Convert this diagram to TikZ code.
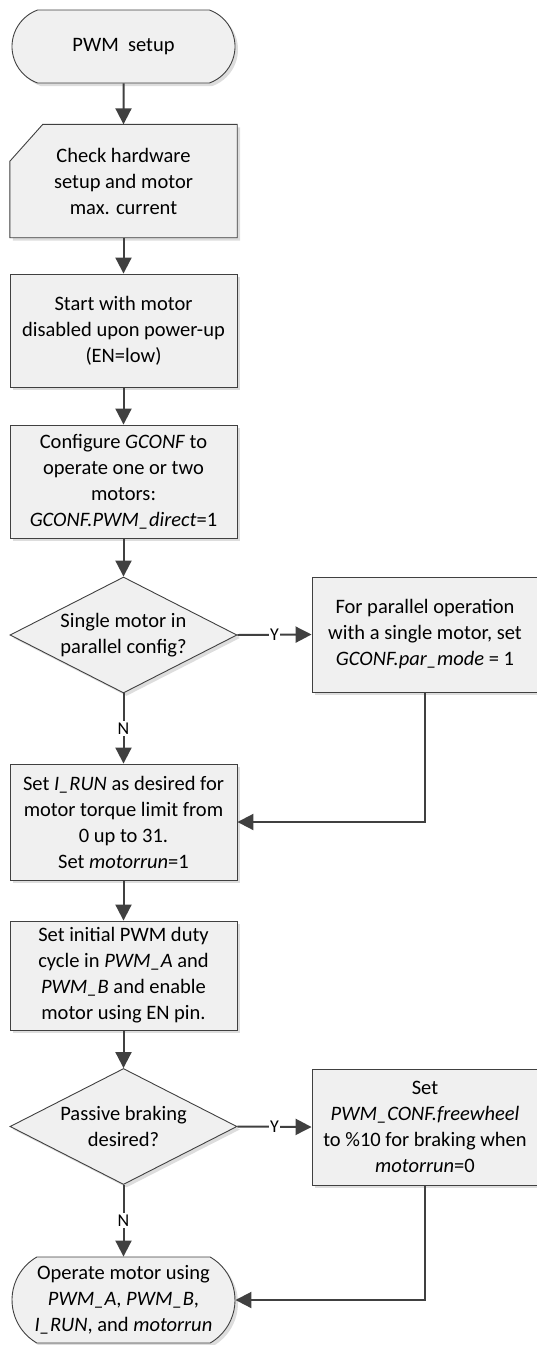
\documentclass[tikz,border=0pt]{standalone}
\usepackage{fontspec}
\setmainfont{Carlito}
\usetikzlibrary{arrows.meta,shapes.geometric,shapes.misc,shadows,calc}
\pgfdeclarelayer{bg}
\pgfsetlayers{bg,main}
\definecolor{linec}{HTML}{404040}
\definecolor{boxc}{HTML}{F0F0F0}
\definecolor{shc}{HTML}{DDDDDD}
\tikzset{
  txt/.style={font=\fontsize{20.5}{26}\selectfont, align=center, text=black},
  shad/.style={drop shadow={shadow xshift=3pt, shadow yshift=-3pt, fill=shc, opacity=1}},
  boxlook/.style={draw=linec, fill=boxc, line width=0.9pt, shad},
  proc/.style={txt, rectangle, boxlook, minimum width=227, minimum height=113, inner sep=2pt},
  sideproc/.style={proc, minimum width=226, minimum height=115},
  decis/.style={txt, diamond, boxlook, minimum width=227, minimum height=116, inner sep=0pt, aspect=1.95},
  term/.style={txt, rounded rectangle, rounded rectangle arc length=120, boxlook, minimum width=227, inner sep=2pt},
  arr/.style={-{Triangle[length=16pt,width=16pt]}, line width=2pt, draw=linec},
  lbl/.style={fill=white, inner sep=1.5pt, font=\fontsize{18}{22}\selectfont, text=black},
}
\begin{document}
\begin{tikzpicture}[x=1pt,y=-1pt]
\useasboundingbox (0,0) rectangle (536,1345);

\node[term, rounded rectangle arc length=140, minimum height=73] (t1) at (123.5,46.5) {PWM\ \ setup};
\node[txt, rectangle, minimum width=227, minimum height=113, inner sep=2pt] (chk) at (123.5,181) {Check hardware\\setup and motor\\max. current};
\begin{pgfonlayer}{bg}
\path[boxlook] ($(chk.north west)+(0,37)$) -- ($(chk.north west)+(33,0)$) -- (chk.north east) -- (chk.south east) -- (chk.south west) -- cycle;
\end{pgfonlayer}
\node[proc] (dis) at (123.5,330.5) {Start with motor\\disabled upon power-up\\(EN=low)};
\node[proc] (gconf) at (123.5,481.5) {Configure \textit{GCONF} to\\operate one or two\\motors:\\\textit{GCONF.PWM\_direct}=1};
\node[decis] (d1) at (123.5,635) {Single motor in\\parallel config?};
\node[sideproc] (par) at (425,634.5) {For parallel operation\\with a single motor, set\\\textit{GCONF.par\_mode} = 1};
\node[proc, minimum height=116] (irun) at (123.5,822) {Set \textit{I\_RUN} as desired for\\motor torque limit from\\0 up to 31.\\Set \textit{motorrun}=1};
\node[proc, minimum height=109] (pwm) at (123.5,975.5) {Set initial PWM duty\\cycle in \textit{PWM\_A} and\\\textit{PWM\_B} and enable\\motor using EN pin.};
\node[decis] (d2) at (123.5,1126.5) {Passive braking\\desired?};
\node[sideproc, minimum height=116] (fw) at (425,1127) {Set\\\textit{PWM\_CONF.freewheel}\\to \%10 for braking when\\\textit{motorrun}=0};
\node[term, minimum height=86] (t2) at (123.5,1300) {Operate motor using\\\textit{PWM\_A}, \textit{PWM\_B},\\\textit{I\_RUN}, and \textit{motorrun}};

\draw[arr] (t1) -- (chk);
\draw[arr] (chk) -- (dis);
\draw[arr] (dis) -- (gconf);
\draw[arr] (gconf) -- (d1);
\draw[arr] (d1.east) -- node[lbl] {Y} (par.west);
\draw[arr] (d1.south) -- node[lbl] {N} (irun.north);
\draw[arr] (par.south) |- (irun.east);
\draw[arr] (irun) -- (pwm);
\draw[arr] (pwm) -- (d2);
\draw[arr] (d2.east) -- node[lbl] {Y} (fw.west);
\draw[arr] (d2.south) -- node[lbl] {N} (t2.north);
\draw[arr] (fw.south) |- (t2.east);
\end{tikzpicture}
\end{document}
